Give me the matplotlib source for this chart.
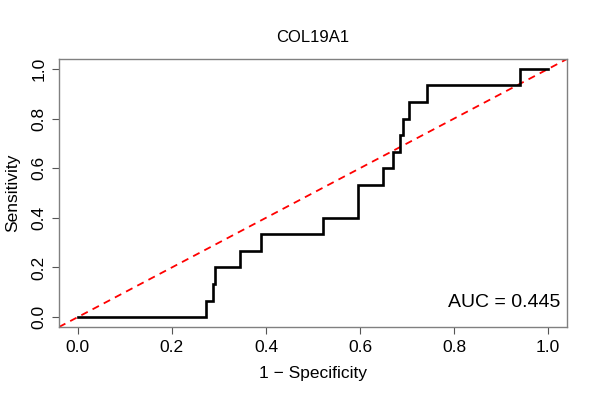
import matplotlib
matplotlib.use("Agg")
import matplotlib.pyplot as plt

plt.rcParams['font.family'] = ['Liberation Sans', 'DejaVu Sans']

title = "COL19A1"
auc_label = "AUC = 0.445"
fpr = [0.0, 0.272, 0.287, 0.291, 0.345, 0.389, 0.521, 0.595, 0.648, 0.671, 0.684, 0.692, 0.704, 0.742, 0.940, 1.0]
tpr = [0.0, 1/15, 2/15, 3/15, 4/15, 5/15, 6/15, 8/15, 9/15, 10/15, 11/15, 12/15, 13/15, 14/15, 1.0, 1.0]
ticks = [0.0, 0.2, 0.4, 0.6, 0.8, 1.0]
tick_labels = ["0.0", "0.2", "0.4", "0.6", "0.8", "1.0"]

fig = plt.figure(figsize=(6, 4), dpi=100)
ax = fig.add_axes([59/600, 1-327/400, (567-59)/600, (327-59)/400])

ax.plot(fpr, tpr, drawstyle='steps-post', color='black', lw=1.9, solid_joinstyle='miter', zorder=3)
ax.axline((0, 0), (1, 1), color='red', ls=(0, (4, 3)), lw=1.3, zorder=2)

ax.set_xlim(-0.04, 1.04)
ax.set_ylim(-0.04, 1.04)
ax.set_xticks(ticks)
ax.set_xticklabels(tick_labels)
ax.set_yticks(ticks)
ax.set_yticklabels(tick_labels, rotation=90, va='center')
for s in ax.spines.values():
    s.set_color('#808080')
    s.set_linewidth(1.0)
ax.tick_params(direction='out', length=5, width=0.8, color='#555555', labelsize=12.5, pad=4)

ax.set_xlabel("1 \u2212 Specificity", fontsize=12.5, labelpad=8)
ax.set_ylabel("Sensitivity", fontsize=12.5, labelpad=8)
ax.set_title(title, fontsize=12, pad=12)
ax.text(1.025, 0.06, auc_label, ha='right', va='center', fontsize=14)

fig.savefig("out.png", dpi=100)
